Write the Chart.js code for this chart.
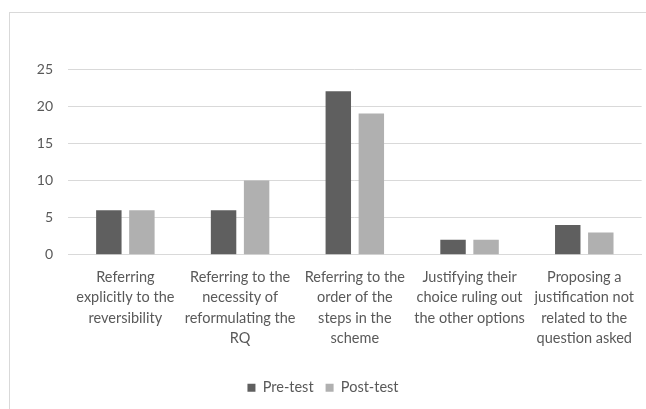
<!DOCTYPE html>
<html>
<head>
<meta charset="utf-8">
<script src="https://cdn.jsdelivr.net/npm/chart.js@4"></script>
<style>
  html, body { margin: 0; padding: 0; background: #fff; }
  #wrap { position: relative; width: 646px; height: 409px; overflow: hidden; }
  #frame { position: absolute; left: 9px; top: 12px; width: 700px; height: 500px; border: 1px solid #d9d9d9; }
  canvas { position: absolute; left: 0; top: 0; }
</style>
</head>
<body>
<div id="wrap">
  <div id="frame"></div>
  <canvas id="chart" width="646" height="409"></canvas>
</div>
<script>
const categories = [
    ['Referring', 'explicitly to the', 'reversibility'],
    ['Referring to the', 'necessity of', 'reformulating the', 'RQ'],
    ['Referring to the', 'order of the', 'steps in the', 'scheme'],
    ['Justifying their', 'choice ruling out', 'the other options'],
    ['Proposing a', 'justification not', 'related to the', 'question asked']
];
const preTest = [6, 6, 22, 2, 4];
const postTest = [6, 10, 19, 2, 3];
const yTicks = [0, 5, 10, 15, 20, 25];

const textColor = '#595959';
const fontFamily = 'Lato, "Open Sans", sans-serif';

document.addEventListener('DOMContentLoaded', function() {
    const ctx = document.getElementById('chart').getContext('2d');

    new Chart(ctx, {
        type: 'bar',
        data: {
            labels: categories,
            datasets: [
                {
                    label: 'Pre-test',
                    data: preTest,
                    backgroundColor: '#5f5f5f',
                    categoryPercentage: 0.576,
                    barPercentage: 0.77
                },
                {
                    label: 'Post-test',
                    data: postTest,
                    backgroundColor: '#b0b0b0',
                    categoryPercentage: 0.576,
                    barPercentage: 0.77
                }
            ]
        },
        options: {
            responsive: false,
            animation: false,
            layout: {
                padding: { top: 69, right: 0, bottom: 4, left: 0 }
            },
            scales: {
                y: {
                    min: 0,
                    max: 25,
                    afterFit: function(scale) { scale.width = 68; },
                    afterBuildTicks: function(scale) {
                        scale.ticks = yTicks.map(v => ({ value: v }));
                    },
                    border: { display: false },
                    grid: { color: '#d9d9d9', lineWidth: 1, drawTicks: false },
                    ticks: {
                        padding: 15,
                        color: textColor,
                        font: { family: fontFamily, size: 14 }
                    }
                },
                x: {
                    afterFit: function(scale) { scale.height += 8; },
                    border: { display: true, color: '#d9d9d9', width: 1 },
                    grid: { display: false, drawTicks: false },
                    ticks: {
                        padding: 12,
                        maxRotation: 0,
                        autoSkip: false,
                        color: textColor,
                        font: { family: fontFamily, size: 14.5, lineHeight: 1.41 }
                    }
                }
            },
            plugins: {
                legend: {
                    position: 'bottom',
                    labels: {
                        boxWidth: 8,
                        boxHeight: 8,
                        padding: 12,
                        color: textColor,
                        font: { family: fontFamily, size: 14.5 }
                    }
                },
                tooltip: { enabled: false }
            }
        }
    });
});
</script>
</body>
</html>
